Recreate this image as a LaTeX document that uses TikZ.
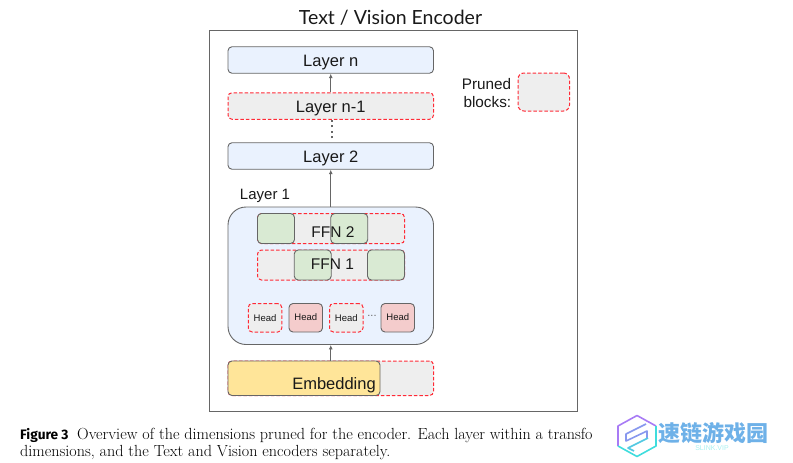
\documentclass[tikz,border=0pt]{standalone}
\usepackage{fontspec}
\setsansfont{Liberation Sans}
\newfontfamily\titlefont{Lato}
\newfontfamily\capfont{Fira Sans}
\newfontfamily\cjk{Noto Sans CJK SC}
\usetikzlibrary{arrows.meta}

\definecolor{layerblue}{HTML}{EAF2FE}
\definecolor{prunedgray}{HTML}{EEEEEE}
\definecolor{prunedred}{HTML}{FF2A36}
\definecolor{edgegray}{HTML}{666666}
\definecolor{ffngreen}{HTML}{D9EAD3}
\definecolor{headred}{HTML}{F4CCCC}
\definecolor{embedyellow}{HTML}{FFE599}
\definecolor{logopurple}{HTML}{A87BF5}
\definecolor{logocyan}{HTML}{3FDDDD}

\tikzset{
    sans/.style={font=\sffamily\fontsize{#1}{#1}\selectfont, text=black!90},
    block/.style={rounded corners=4pt, line width=0.9pt, inner sep=0pt, sans=16.5, text height=12pt, text depth=0pt},
    layerbox/.style={block, draw=edgegray, fill=layerblue},
    prunedbox/.style={block, preaction={fill=prunedgray}, draw=prunedred, line width=1pt, dash pattern=on 3.5pt off 2pt},
    ffnbox/.style={block, draw=edgegray, fill=ffngreen, minimum width=37pt, minimum height=30pt},
    headbox/.style={block, draw=edgegray, fill=headred, minimum width=33.5pt, minimum height=28.5pt, sans=9.5, text height=7pt, text depth=1pt},
    prunedhead/.style={prunedbox, minimum width=33.5pt, minimum height=28.5pt, sans=9.5, text height=7pt, text depth=0pt},
    flow/.style={-{Latex[length=4.5pt,width=4pt]}, edgegray, line width=1pt},
}

\begin{document}
\begin{tikzpicture}[x=1pt, y=-1pt]
    \useasboundingbox (0,0) rectangle (793,463);

    \node[sans=19.5, inner sep=0pt] (title) at (390.5,17.5) {\titlefont Text / Vision Encoder};
    \node[draw=edgegray, line width=0.9pt, minimum width=367.5pt, minimum height=381pt, inner sep=0pt] (frame) at (393.25,220.5) {};

    % layers
    \node[layerbox, minimum width=205.5pt, minimum height=26.5pt] (layern) at (330.75,60) {Layer n};
    \node[prunedbox, minimum width=205.5pt, minimum height=26.5pt] (layernm) at (330.75,106) {Layer n-1};
    \node[layerbox, minimum width=205.5pt, minimum height=26.5pt] (layertwo) at (330.75,156) {Layer 2};
    \node[sans=15, inner sep=0pt, text height=11pt, text depth=0pt] (layeronelabel) at (265,193.5) {Layer 1};

    % layer 1
    \node[layerbox, rounded corners=18pt, minimum width=205.5pt, minimum height=137.5pt] (layerone) at (330.75,275.75) {};

    \node[prunedbox, minimum width=147pt, minimum height=30pt] (ffntwo) at (331,228.5) {};
    \node[ffnbox] (greena) at (276,228.5) {};
    \node[ffnbox] (greenb) at (349.25,228.5) {};
    \node[sans=15.5, inner sep=0pt] (ffntwolabel) at (333,232) {FFN 2};

    \node[prunedbox, minimum width=147pt, minimum height=30pt] (ffnone) at (331,265) {};
    \node[ffnbox] (greenc) at (312.75,265) {};
    \node[ffnbox] (greend) at (386,265) {};
    \node[sans=15.5, inner sep=0pt] (ffnonelabel) at (332.5,264) {FFN 1};

    \node[prunedhead] (heada) at (265,317.75) {Head};
    \node[headbox] (headb) at (305.75,317.75) {Head};
    \node[prunedhead] (headc) at (346.25,317.75) {Head};
    \node[headbox] (headd) at (397.75,317.75) {Head};
    \node[sans=11, inner sep=0pt, text=black!60] (headdots) at (372,316) {...};

    % embedding
    \node[prunedbox, minimum width=205.5pt, minimum height=34.5pt] (embedpruned) at (330.75,378.25) {};
    \node[block, draw=edgegray, fill=embedyellow, minimum width=152pt, minimum height=34.5pt] (embed) at (304,378.25) {};
    \node[sans=16.5, inner sep=0pt, text height=12pt, text depth=0pt] (embedlabel) at (334,383) {Embedding};

    % legend
    \node[sans=15.3, align=right, inner sep=0pt] (legendtext) at (486.5,93) {Pruned\\[3pt]blocks:};
    \node[prunedbox, rounded corners=6pt, minimum width=51.5pt, minimum height=38pt] (legendbox) at (543.75,92) {};

    % connectors
    \draw[flow] (layernm.north) -- (layern.south);
    \draw[edgegray, line width=2pt, dash pattern=on 2pt off 3.5pt] (layertwo.north) ++(1.5,-4) -- ++(0,-18);
    \draw[flow] (layerone.north) -- (layertwo.south);
    \draw[flow] (embedpruned.north) -- (layerone.south);

    % caption
    \node[anchor=base west, inner sep=0pt, font=\fontsize{13.7}{13.7}\selectfont] (figtag) at (20,439.5) {\capfont\bfseries Figure 3};
    \begin{scope}
        \clip (70,425) rectangle (592.5,445);
        \node[anchor=base west, inner sep=0pt, font=\fontsize{16.1}{16.1}\selectfont] (capone) at (77,439.5) {Overview of the dimensions pruned for the encoder. Each layer within a transformer};
    \end{scope}
    \node[anchor=base west, inner sep=0pt, font=\fontsize{16.1}{16.1}\selectfont] (captwo) at (20,456) {dimensions, and the Text and Vision encoders separately.};

    % watermark
    \draw[logopurple, line width=1.6pt, line join=round] (618,446) -- (618,426) -- (637,415.5) -- (656,426);
    \draw[logocyan, line width=1.6pt, line join=round] (656,426) -- (656,446) -- (637,456.5) -- (618,446);
    \draw[logopurple!70!logocyan, line width=1.6pt, line join=round] (646,424) -- (626,434) -- (626,441) -- (647,431) -- (647,438);
    \draw[logocyan!80!logopurple, line width=1.6pt, line join=round] (648,438) -- (628,448) -- (634,451);
    \node[inner sep=0pt, text=logopurple!45!logocyan, font=\fontsize{22}{22}\selectfont] (logotext) at (713.5,433) {\cjk\bfseries 速链游戏园};
    \node[inner sep=0pt, text=logocyan!45, font=\sffamily\fontsize{7}{7}\selectfont] (logosub) at (712,448) {SLINK.VIP};
\end{tikzpicture}
\end{document}
